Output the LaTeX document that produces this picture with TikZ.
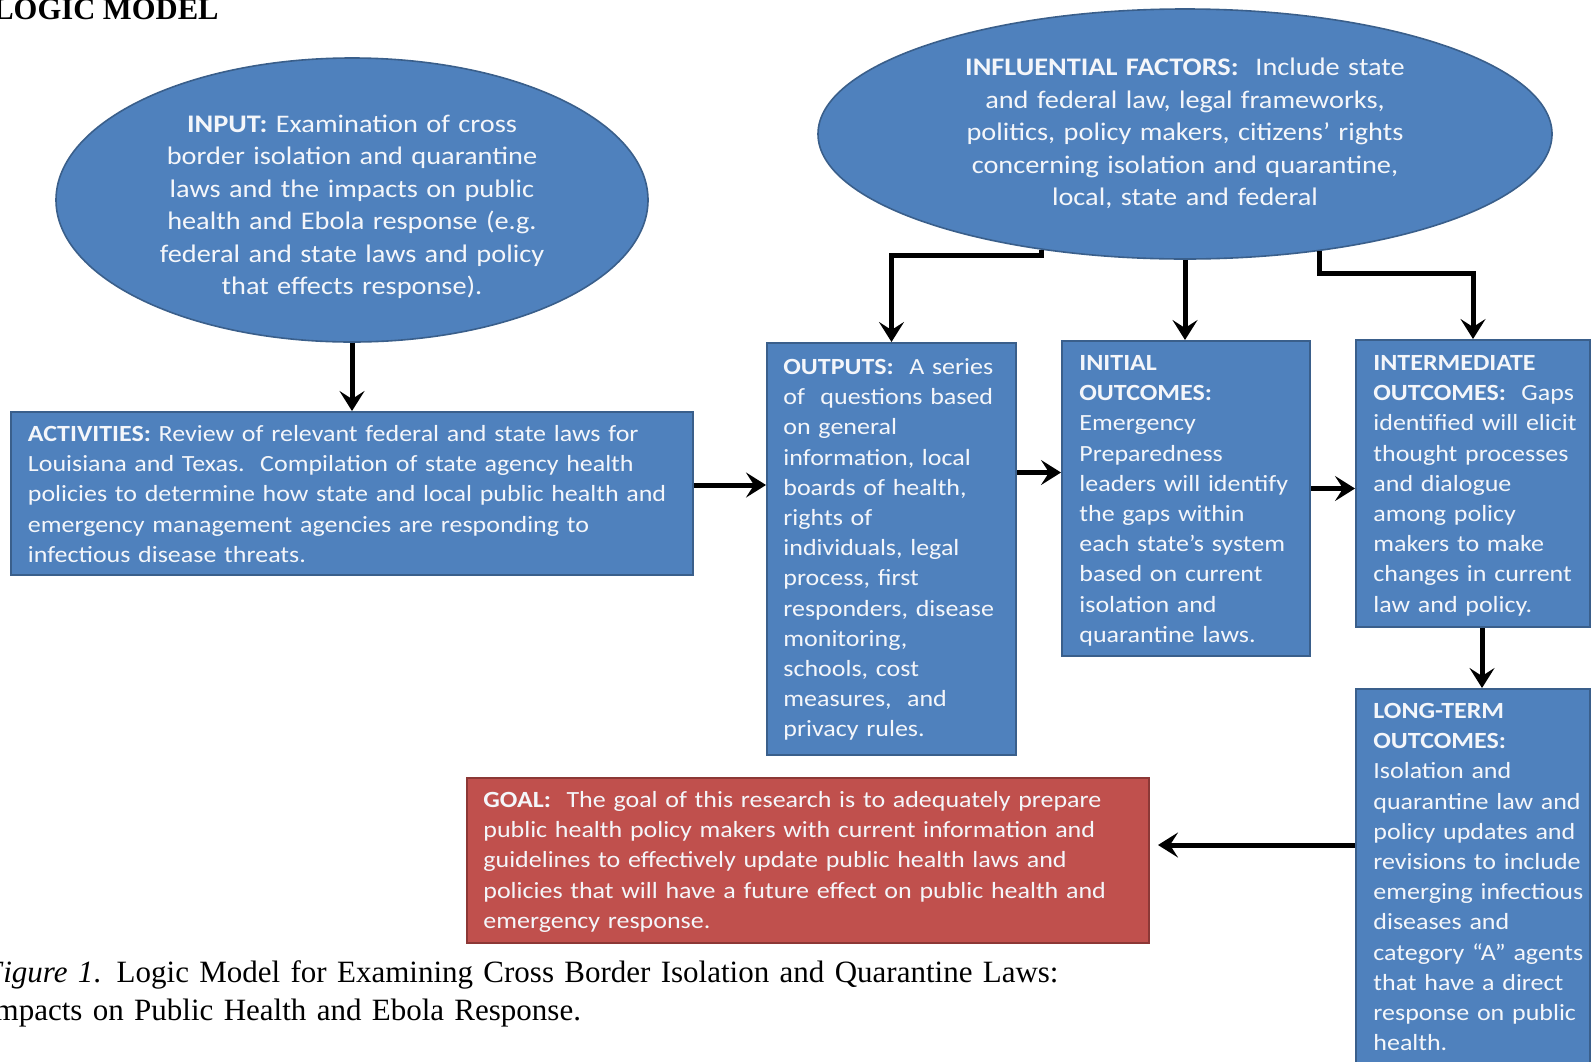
\documentclass[tikz,border=0pt]{standalone}
\usepackage{fontspec}
\setmainfont{Liberation Serif}
\newfontfamily\boxfont[FakeStretch=1.12]{Carlito}
\usetikzlibrary{shapes.geometric,arrows.meta,calc}
\definecolor{boxblue}{HTML}{4F81BD}
\definecolor{boxblueline}{HTML}{3A5F8B}
\definecolor{boxred}{HTML}{C0504D}
\definecolor{boxredline}{HTML}{8C3836}
\definecolor{boxtext}{HTML}{F4F6FA}
\tikzset{
  bluebox/.style={rectangle, draw=boxblueline, fill=boxblue, line width=1pt, inner sep=0pt},
  redbox/.style={rectangle, draw=boxredline, fill=boxred, line width=1pt, inner sep=0pt},
  blueoval/.style={ellipse, draw=boxblueline, fill=boxblue, line width=0.8pt, inner sep=0pt},
  smalltxt/.style={text=boxtext, font=\boxfont\fontsize{11.6}{15.1}\selectfont, inner sep=0pt, anchor=base west, text width=#1, align=left},
  bigtxt/.style={text=boxtext, font=\boxfont\fontsize{12.65}{16.25}\selectfont, inner sep=0pt, anchor=base, text width=#1, align=center},
  arr/.style={draw=black, line width=2.5pt, -{Stealth[length=10pt,width=12.5pt,inset=4pt]}},
}
\begin{document}
\begin{tikzpicture}[x=0.5pt,y=-0.5pt]
\useasboundingbox (0,0) rectangle (1594,1061);

% title and caption
\node[anchor=base east, inner sep=0pt, font=\bfseries\fontsize{15.3}{18}\selectfont] (title) at (219,19) {LOGIC MODEL};
\node[anchor=base west, inner sep=0pt, align=left, text width=700pt, font=\fontsize{15.5}{19}\selectfont] (caption) at (-16,982)
  {\textit{Figure 1}. Logic Model for Examining Cross Border Isolation and Quarantine Laws:\\
   Impacts on Public Health and Ebola Response.};

% shapes
\node[blueoval, minimum width=296pt, minimum height=142pt] (input) at (352,200) {};
\node[blueoval, minimum width=367pt, minimum height=125pt] (infl) at (1185,134) {};
\node[bluebox, minimum width=341pt, minimum height=81.5pt] (act) at (352,493.5) {};
\node[bluebox, minimum width=124.5pt, minimum height=206pt] (out) at (891.5,549) {};
\node[bluebox, minimum width=124pt, minimum height=157.5pt] (init) at (1186,498.5) {};
\node[bluebox, minimum width=117pt, minimum height=143.5pt] (inter) at (1473,483.5) {};
\node[bluebox, minimum width=117pt, minimum height=193pt] (long) at (1473,882) {};
\node[redbox, minimum width=341pt, minimum height=82.5pt] (goal) at (808,860.5) {};

% texts
\node[bigtxt=290pt] (inputtxt) at (352,132)
  {\textbf{INPUT:} Examination of cross\\
   border isolation and quarantine\\
   laws and the impacts on public\\
   health and Ebola response (e.g.\\
   federal and state laws and policy\\
   that effects response).};
\node[bigtxt=330pt] (infltxt) at (1185,75.5)
  {\textbf{INFLUENTIAL FACTORS:}\ \ Include state\\
   and federal law, legal frameworks,\\
   politics, policy makers, citizens’ rights\\
   concerning isolation and quarantine,\\
   local, state and federal};
\node[smalltxt=400pt] (acttxt) at (27.5,441.5)
  {\textbf{ACTIVITIES:} Review of relevant federal and state laws for\\
   Louisiana and Texas.\ \ Compilation of state agency health\\
   policies to determine how state and local public health and\\
   emergency management agencies are responding to\\
   infectious disease threats.};
\node[smalltxt=200pt] (outtxt) at (783,374.5)
  {\textbf{OUTPUTS:}\ \ A series\\
   of\ \ questions based\\
   on general\\
   information, local\\
   boards of health,\\
   rights of\\
   individuals, legal\\
   process, first\\
   responders, disease\\
   monitoring,\\
   schools, cost\\
   measures,\ \ and\\
   privacy rules.};
\node[smalltxt=200pt] (inittxt) at (1079,370.5)
  {\textbf{INITIAL}\\
   \textbf{OUTCOMES:}\\
   Emergency\\
   Preparedness\\
   leaders will identify\\
   the gaps within\\
   each state’s system\\
   based on current\\
   isolation and\\
   quarantine laws.};
\node[smalltxt=200pt] (intertxt) at (1373,370.5)
  {\textbf{INTERMEDIATE}\\
   \textbf{OUTCOMES:}\ \ Gaps\\
   identified will elicit\\
   thought processes\\
   and dialogue\\
   among policy\\
   makers to make\\
   changes in current\\
   law and policy.};
\node[smalltxt=200pt] (longtxt) at (1373,718.5)
  {\textbf{LONG-TERM}\\
   \textbf{OUTCOMES:}\\
   Isolation and\\
   quarantine law and\\
   policy updates and\\
   revisions to include\\
   emerging infectious\\
   diseases and\\
   category “A” agents\\
   that have a direct\\
   response on public\\
   health.};
\node[smalltxt=400pt] (goaltxt) at (483,807.5)
  {\textbf{GOAL:}\ \ The goal of this research is to adequately prepare\\
   public health policy makers with current information and\\
   guidelines to effectively update public health laws and\\
   policies that will have a future effect on public health and\\
   emergency response.};

% connectors
\draw[arr] (input.south) -- (act.north);
\draw[arr] ([yshift=4.25pt]act.east) coordinate (a1) -- (a1 -| out.west);
\coordinate (a2) at ([yshift=13pt]init.west);
\draw[arr] (a2 -| out.east) -- (a2);
\draw[arr] ([yshift=5pt]init.east) coordinate (a3) -- (a3 -| inter.west);
\draw[arr] (infl.219.5) -- ++(0,6) -| (out.north);
\draw[arr] (infl.south) -- (infl.south |- init.north);
\draw[arr] (infl.319) -- ++(0,22) -| (inter.north);
\draw[arr] ([xshift=4.5pt]inter.south) -- ([xshift=4.5pt]long.north);
\draw[arr, shorten >=4pt] ([yshift=18.5pt]long.west) coordinate (a4) -- (a4 -| goal.east);
\end{tikzpicture}
\end{document}
